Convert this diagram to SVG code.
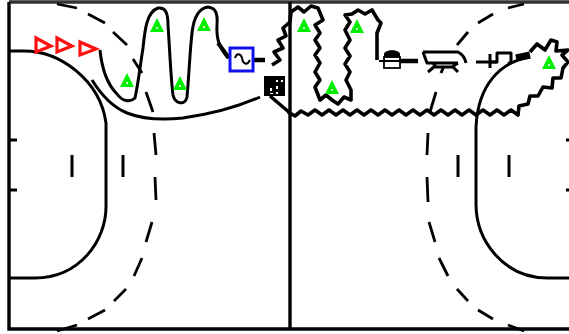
<svg xmlns="http://www.w3.org/2000/svg" width="569" height="334" viewBox="0 0 569 334">
<defs>
<style>
.l{fill:none;stroke:#000;stroke-width:3;stroke-linejoin:round;stroke-linecap:butt}
.w{fill:none;stroke:#000;stroke-width:3.6;stroke-linejoin:round}
.d{fill:none;stroke:#000;stroke-width:2.8}
.t{fill:#00ee00;stroke:none}
.r{fill:#fff;stroke:#ff1010;stroke-width:3.2}
</style>
<g id="tri"><path class="t" d="M-7 7L0-7L7 7Z"/><circle cx="0" cy="3" r="1.1" fill="#fff"/></g>
</defs>
<rect width="569" height="334" fill="#fff"/>
<g id="frame">
<path d="M9 2H569" stroke="#333" stroke-width="3.4" fill="none"/>
<path d="M9 2V329H569" stroke="#000" stroke-width="3.4" fill="none"/>
<path d="M290 2V329" stroke="#000" stroke-width="3.4" fill="none"/>
<path class="l" d="M9 140H17M9 190H17M72 155V177M123 155V177M458 155V177M509 155V177M566 140H569M566 190H569"/>
</g>
<g id="connectors">
<path class="l" d="M9 51H24C60 51 100 80 106 123V207C106 240 80 278 35 278H9"/>
<path class="l" d="M530 57C500 62 478 85 476 127V204C476 240 503 278 548 278H569"/>
<path class="l" d="M92 80C100 93 110 106 127 113C145 120 165 120 183 118C205 115 235 108 260 97"/>
<path class="l" d="M100 50C102 70 108 85 117 94C122 101 130 103 135 98C138 85 140 67 143 48C145 28 147 12 158 8C165 7 168 12 168 25C170 55 171 80 173 95C175 104 185 106 187 97C189 75 190 50 192 33C194 15 200 8 208 7C215 8 218 12 217 25C216 40 220 48 228 58"/>
<path class="d" d="M57 4L77 8M88 14L105 23M113 32L127 45M133 59L142 73M146 92L153 112M154 133L156 155M155 177L156 200M152 222L146 242M142 258L134 276M126 289L114 301M105 310L88 319M77 325L57 331"/>
<path class="d" d="M524 4L508 8M493 14L478 23M468 32L457 45M436 92L430 112M428 133L427 155M427 177L428 202M429 222L435 242M439 258L448 276M457 289L468 301M478 310L493 319M508 325L524 331"/>
<path class="w" d="M272 65L280 60L274 52L283 48L278 40L286 36L283 28L290 22L291 12L298 7L304 12L311 6L318 8L323 20L315 25L320 33L315 40L320 48L315 55L320 63L315 72L320 80L315 87L320 100L326 95L332 100L338 104L344 97L351 100L351 90L346 80L350 72L345 64L350 56L345 48L350 40L345 30L350 22L345 15L352 14L358 10L365 14L372 10L378 20L381 23L377 33L377 60"/>
<path class="w" d="M288 112L295 116L301 111L308 115L315 110L322 115L329 110L336 115L343 110L350 115L357 110L364 115L371 110L378 115L385 110L392 115L399 110L406 115L413 110L420 115L427 110L434 115L441 110L448 115L455 110L462 115L469 110L476 115L483 110L490 115L497 110L504 115L511 110L518 115L519 106L528 104L530 96L538 96L543 87L552 88L553 78L561 78L563 68L568 62L562 55L568 50L556 51L557 42L551 40L545 50L537 44L530 52"/>
<path d="M270 96L290 113" stroke="#000" stroke-width="3.5" fill="none"/>
<path d="M218 43L229 58" stroke="#000" stroke-width="4" fill="none"/>
<path d="M250 60H265" stroke="#000" stroke-width="4.5" fill="none"/>
<path d="M400 61H418" stroke="#000" stroke-width="4.5" fill="none"/>
<path d="M476 62H497" stroke="#000" stroke-width="3" fill="none"/>
<path d="M516 58L530 55" stroke="#000" stroke-width="7" fill="none"/>
</g>
<g id="red-markers">
<path class="r" d="M36 38L51 46L36 52Z"/>
<path class="r" d="M57 38L72 46L57 52Z"/>
<path class="r" d="M80 42L96 49L80 55Z"/>
</g>
<g id="sensors">
<use href="#tri" x="157" y="25"/>
<use href="#tri" x="204" y="24"/>
<use href="#tri" x="127" y="80"/>
<use href="#tri" x="180" y="83"/>
<use href="#tri" x="304" y="25"/>
<use href="#tri" x="357" y="26"/>
<use href="#tri" x="332" y="87"/>
<use href="#tri" x="549" y="62"/>
</g>
<g id="source">
<rect x="230" y="48" width="23" height="23" fill="#fff" stroke="#1010ee" stroke-width="3"/>
<path d="M235 58C237 52 241 54 242 58C243 64 247 66 250 60" fill="none" stroke="#000" stroke-width="2"/>
</g>
<g id="box">
<rect x="264" y="76" width="21" height="20" fill="#000"/>
<path d="M270 88h2v3h-2zM276 86h2v3h-2zM276 92h2v2h-2zM281 80h2v2h-2zM276 80h2v2h-2zM270 93h3v1h-3z" fill="#fff"/>
</g>
<g id="device-a">
<path d="M384 54C385 49 399 49 400 54V57H384Z" fill="#000"/>
<rect x="384" y="57" width="16" height="11" fill="#fff" stroke="#000" stroke-width="1.8"/>
<path d="M379 61H400" stroke="#000" stroke-width="2" fill="none"/>
</g>
<g id="device-b">
<path class="l" d="M423 52H458C462 54 465 58 466 63M423 52L427 63H458M433 63L436 67H452L458 63"/>
<path class="l" d="M435 66L428 72M444 66L441 73M452 66L458 72"/>
</g>
<g id="device-c">
<path class="l" d="M490 54V68M490 62H497V53H511V62L508 64"/>
</g>
</svg>
